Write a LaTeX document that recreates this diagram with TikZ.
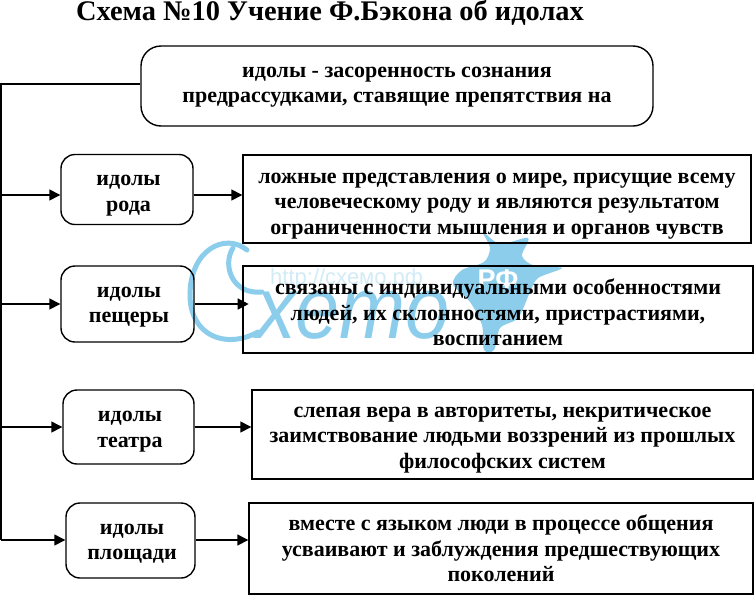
\documentclass[tikz,border=0pt]{standalone}
\usepackage{fontspec}
\setmainfont{Liberation Serif}
\setsansfont{Liberation Sans}
\usetikzlibrary{arrows.meta}
\tikzset{
  idolbox/.style={draw, rounded corners=14pt, line width=1.4pt},
  descbox/.style={draw, line width=1.4pt},
  boxtext/.style={font=\fontsize{22}{25.5}\selectfont\bfseries, align=center, inner sep=0pt},
  conn/.style={->, line width=1.4pt},
  mark blue/.style={color=markblue, line width=5pt, line cap=round}
}
\definecolor{markblue}{RGB}{140,205,235}
\begin{document}
\begin{tikzpicture}[>={Triangle[length=11pt,width=11pt]}, x=1pt, y=-1pt]
\useasboundingbox (0,0) rectangle (754,600);
% The watermark behind the diagram
\fill [markblue] plot [smooth cycle, tension=.5] coordinates {
  (483,232) (500,244) (528,238) (522,256) (535,266) (562,268) (538,278) (530,292)
  (518,318) (500,328) (494,350) (484,350) (482,325) (470,302) (453,284) (462,270) (484,262) (490,248)};
\draw [mark blue] (247,250) .. controls (225,232) and (190,250) .. (190,295)
  .. controls (190,335) and (225,350) .. (258,332);
\draw [mark blue] (233,248) .. controls (222,265) and (232,295) .. (262,292);
\node [text=markblue, font=\fontsize{88}{88}\selectfont\sffamily\itshape, anchor=base west, inner sep=0pt] (markname) at (256,338) {\scalebox{0.9}[1]{xemo}};
\node [text=markblue!40, font=\fontsize{22}{22}\selectfont\sffamily, anchor=base west, inner sep=0pt] (markurl) at (270,284) {http://схемо.рф};
\node [text=white, font=\fontsize{27}{27}\selectfont\sffamily\bfseries] (markrf) at (498,279) {РФ};
% Title
\node [font=\fontsize{28.4}{28.4}\selectfont\bfseries, anchor=base] (title) at (330,20.5) {Схема №10 Учение Ф.Бэкона об идолах};
% The boxes
\node [idolbox, rounded corners=20pt, minimum width=512pt, minimum height=80pt] (main) at (397,86) {};
\node [boxtext, yshift=-1pt] (maintext) at (main) {идолы - засоренность сознания\\предрассудками, ставящие препятствия на};
\foreach \nm/\cx/\cy/\wid/\hei/\drop/\lab in {
  rod/127/189.5/132/70/6/{идолы\\рода},
  cave/127.5/304/133/76/3/{идолы\\пещеры},
  theatre/128.5/427/131/74/4.5/{идолы\\театра},
  square/130.5/540.5/129/75/3/{идолы\\площади}} {
  \node [idolbox, minimum width=\wid pt, minimum height=\hei pt] (\nm) at (\cx,\cy) {};
  \node [boxtext, xshift=1.5pt, yshift=-\drop pt] (\nm label) at (\nm) {\lab};
}
\foreach \nm/\cx/\cy/\wid/\hei/\drop/\lab in {
  rodtext/497/199/508/88/7/{ложные представления о мире, присущие всему\\человеческому роду и являются результатом\\ограниченности мышления и органов чувств},
  cavetext/498/309.5/510/87/3/{связаны с индивидуальными особенностями\\людей, их склонностями, пристрастиями,\\воспитанием},
  theatretext/502.5/434.5/501/89/5.5/{слепая вера в авторитеты, некритическое\\заимствование людьми воззрений из прошлых\\философских систем},
  squaretext/501/548.5/504/91/0/{вместе с языком люди в процессе общения\\усваивают и заблуждения предшествующих\\поколений}} {
  \node [descbox, minimum width=\wid pt, minimum height=\hei pt] (\nm) at (\cx,\cy) {};
  \node [boxtext, yshift=-\drop pt] (\nm label) at (\nm) {\lab};
}
% The line down the left side and its arrows
\coordinate (top) at (1,84);
\coordinate (a1) at (1,195);
\coordinate (a2) at (1,304);
\coordinate (a3) at (1,427);
\coordinate (a4) at (1,540);
\draw [line width=1.4pt] (main.west |- top) -- (top) -- (a4);
\draw [conn] (a1) -- (a1 -| rod.west);
\draw [conn] (a2) -- (a2 -| cave.west);
\draw [conn] (a3) -- (a3 -| theatre.west);
\draw [conn] (a4) -- (a4 -| square.west);
\draw [conn] (rod.east |- a1) -- (a1 -| rodtext.west);
\draw [conn] (cave.east |- a2) -- +(54,0);
\draw [conn] (theatre.east |- a3) -- (a3 -| theatretext.west);
\draw [conn] (square.east |- a4) -- (a4 -| squaretext.west);
\end{tikzpicture}
\end{document}
